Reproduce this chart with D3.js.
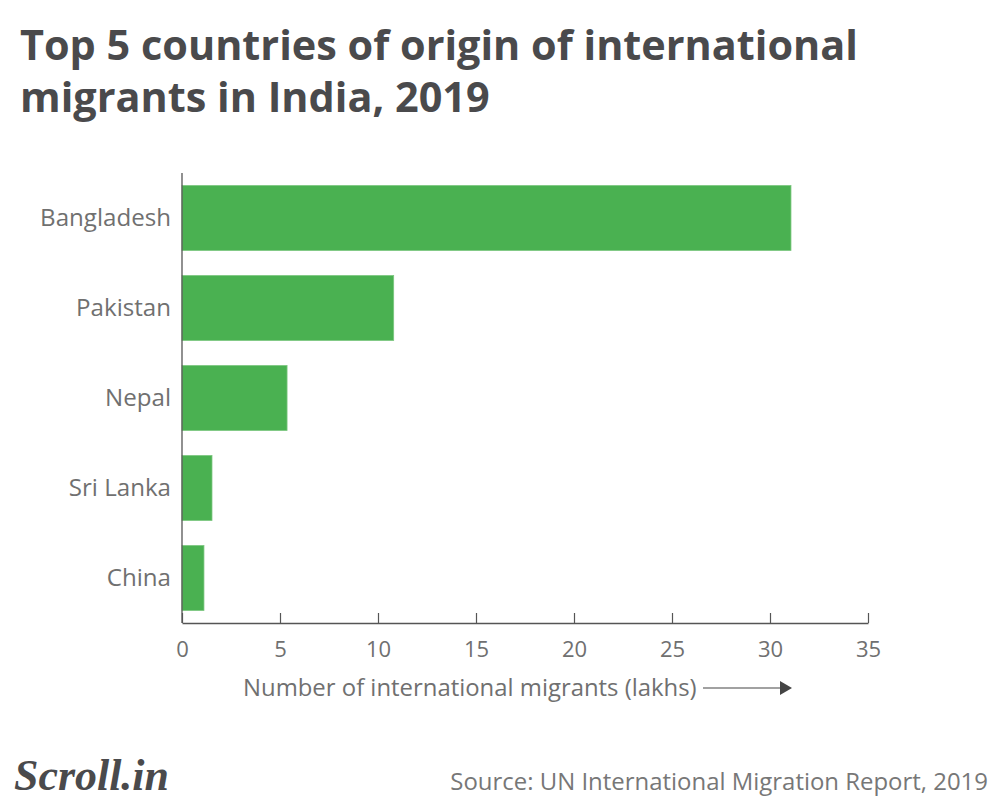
<!DOCTYPE html>
<html>
<head>
<meta charset="utf-8">
<script src="https://cdn.jsdelivr.net/npm/d3@7"></script>
<style>
  body { margin: 0; background: #fff; }
  svg { display: block; }
</style>
</head>
<body>
<div id="chart"></div>
<script>
// values (lakhs)
var countries = ["Bangladesh", "Pakistan", "Nepal", "Sri Lanka", "China"];
var migrants = [31.07, 10.8, 5.36, 1.53, 1.12];
var xTicks = [0, 5, 10, 15, 20, 25, 30, 35];

var titleLines = ["Top 5 countries of origin of international", "migrants in India, 2019"];
var axisTitle = "Number of international migrants (lakhs)";
var sourceText = "Source: UN International Migration Report, 2019";

var data = countries.map((c, i) => ({ country: c, value: migrants[i] }));

var dim = { width: 1000, height: 808 };
var plot = { left: 182, right: 868, top: 173, bottom: 623 };

var svg = d3.select("#chart").append("svg")
    .attr("width", dim.width)
    .attr("height", dim.height);

svg.append("rect").attr("width", "100%").attr("height", "100%").attr("fill", "#fff");

// fit a text element to a width by changing its font size
function fitWidth(sel, w) {
    var node = sel.node();
    var fs = parseFloat(sel.attr("font-size"));
    var len = node.getComputedTextLength();
    sel.attr("font-size", fs * w / len);
}

// title
var titleY = [60, 112];
var title = svg.append("g");
titleLines.forEach(function (t, i) {
    title.append("text")
        .attr("x", 20)
        .attr("y", titleY[i])
        .attr("font-family", "'Open Sans', sans-serif")
        .attr("font-weight", 700)
        .attr("font-size", 40)
        .attr("fill", "#4a4a4c")
        .text(t);
});
fitWidth(title.select("text"), 838);
title.selectAll("text").attr("font-size", title.select("text").attr("font-size"));

var xScale = d3.scaleLinear()
    .domain([0, 35])
    .range([plot.left, plot.right]);

var yScale = d3.scaleBand()
    .domain(countries)
    .range([plot.top, plot.bottom])
    .paddingInner(25 / 90)
    .paddingOuter(12.5 / 90);

// bars
svg.append("g")
    .selectAll("rect")
    .data(data)
    .join("rect")
    .attr("x", xScale(0))
    .attr("y", d => yScale(d.country))
    .attr("width", d => xScale(d.value) - xScale(0))
    .attr("height", yScale.bandwidth())
    .attr("fill", "#4ab151")
    .attr("stroke", "#7cc67f")
    .attr("stroke-width", 0.8);

// x axis
var xAxis = svg.append("g")
    .attr("transform", "translate(0," + plot.bottom + ")")
    .call(d3.axisBottom(xScale).tickValues(xTicks).tickSize(-10).tickPadding(11).tickSizeOuter(0));
xAxis.select(".domain").attr("stroke", "#555").attr("stroke-width", 1.3);
xAxis.selectAll(".tick line").attr("stroke", "#555").attr("stroke-width", 1.2);
xAxis.selectAll(".tick text")
    .attr("font-family", "'Open Sans', sans-serif")
    .attr("font-size", 22)
    .attr("fill", "#707070")
    .attr("dy", "1.05em");

// y axis
var yAxis = svg.append("g")
    .attr("transform", "translate(" + plot.left + ",0)")
    .call(d3.axisLeft(yScale).tickSize(0).tickPadding(11));
yAxis.select(".domain")
    .attr("d", "M0," + plot.top + "V" + plot.bottom)
    .attr("stroke", "#555").attr("stroke-width", 1.3);
yAxis.selectAll(".tick text")
    .attr("font-family", "'Open Sans', sans-serif")
    .attr("font-size", 21)
    .attr("fill", "#707070");
fitWidth(yAxis.selectAll(".tick text").filter(d => d == "Bangladesh"), 131);
yAxis.selectAll(".tick text").attr("font-size",
    yAxis.selectAll(".tick text").filter(d => d == "Bangladesh").attr("font-size"));

// axis title with arrow
var at = svg.append("text")
    .attr("x", 243)
    .attr("y", 696)
    .attr("font-family", "'Open Sans', sans-serif")
    .attr("font-size", 21)
    .attr("fill", "#707070")
    .text(axisTitle);
fitWidth(at, 454);

svg.append("line")
    .attr("x1", 703).attr("x2", 782)
    .attr("y1", 688).attr("y2", 688)
    .attr("stroke", "#444").attr("stroke-width", 1.2);
svg.append("path")
    .attr("d", "M780,681L792,688L780,695Z")
    .attr("fill", "#444");

// source
var src = svg.append("text")
    .attr("x", 988)
    .attr("y", 790)
    .attr("text-anchor", "end")
    .attr("font-family", "'Open Sans', sans-serif")
    .attr("font-size", 20)
    .attr("fill", "#777")
    .text(sourceText);
fitWidth(src, 538);

// logo
var logo = svg.append("text")
    .attr("x", 14)
    .attr("y", 790)
    .attr("font-family", "'Liberation Serif', serif")
    .attr("font-style", "italic")
    .attr("font-weight", 700)
    .attr("font-size", 40)
    .attr("fill", "#4a4a4c")
    .text("Scroll.in");
fitWidth(logo, 155);
</script>
</body>
</html>
